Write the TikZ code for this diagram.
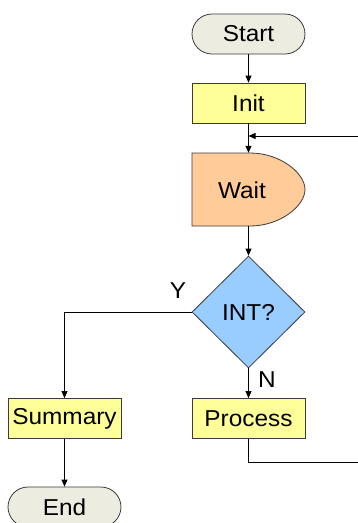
\documentclass[tikz,border=0pt]{standalone}
\usepackage{fontspec}
\setmainfont[FakeStretch=1.06]{Liberation Sans}
\usetikzlibrary{arrows.meta,shapes.geometric}
\definecolor{termfill}{HTML}{EDECE0}
\definecolor{procfill}{HTML}{FFFF99}
\definecolor{waitfill}{HTML}{FFCC99}
\definecolor{decfill}{HTML}{99CCFF}
\definecolor{edge}{HTML}{3A3A3A}
\tikzset{
  every node/.style={font=\fontsize{23}{27}\selectfont, inner sep=0pt},
  term/.style={draw=edge, fill=termfill, rounded corners=20pt, minimum width=113pt, minimum height=40pt, line width=0.8pt},
  proc/.style={draw=edge, fill=procfill, minimum width=113pt, minimum height=40pt, line width=0.8pt},
  dec/.style={draw=edge, fill=decfill, diamond, minimum width=113pt, minimum height=112pt, line width=0.8pt, inner sep=0pt, aspect=1},
  arr/.style={line width=0.8pt, -{Triangle[length=7pt,width=6pt]}},
}
\begin{document}
\begin{tikzpicture}[x=1pt,y=-1pt]
\useasboundingbox (0,0) rectangle (358,523);
\node[term] (start) at (248.5,34) {Start};
\node[proc] (init) at (248.5,103) {Init};
% Wait (delay shape)
\node[minimum width=113pt, minimum height=73pt] (wait) at (248.5,189.5) {};
\draw[draw=edge, fill=waitfill, line width=0.8pt]
  (192,153) -- (250,153)
  .. controls (280.4,153) and (305,173.3) .. (305,189.5)
  .. controls (305,205.7) and (280.4,226) .. (250,226)
  -- (192,226) -- cycle;
\node (waittxt) at (242,190) {Wait};
\node[dec] (int) at (248.5,312) {INT?};
\node[proc] (summary) at (64.5,418.5) {Summary};
\node[proc] (process) at (248.5,418.5) {Process};
\node[term] (end) at (64.5,507) {End};
\node (ylab) at (178,291) {Y};
\node (nlab) at (267,380) {N};
\coordinate (r1) at (372,462);
\coordinate (r2) at (372,136);
\coordinate (join) at (248.5,136);
\coordinate (ycorner) at (64.5,312);
\draw[arr] (start.south) -- (init.north);
\draw[arr] (init.south) -- (wait.north);
\draw[arr] (wait.south) -- (int.north);
\draw[arr] (int.south) -- (process.north);
\draw[arr] (int.west) -- (ycorner) -- (summary.north);
\draw[arr] (summary.south) -- (end.north);
\draw[arr] (process.south) |- (r1) -- (r2) -- (join);
\end{tikzpicture}
\end{document}
